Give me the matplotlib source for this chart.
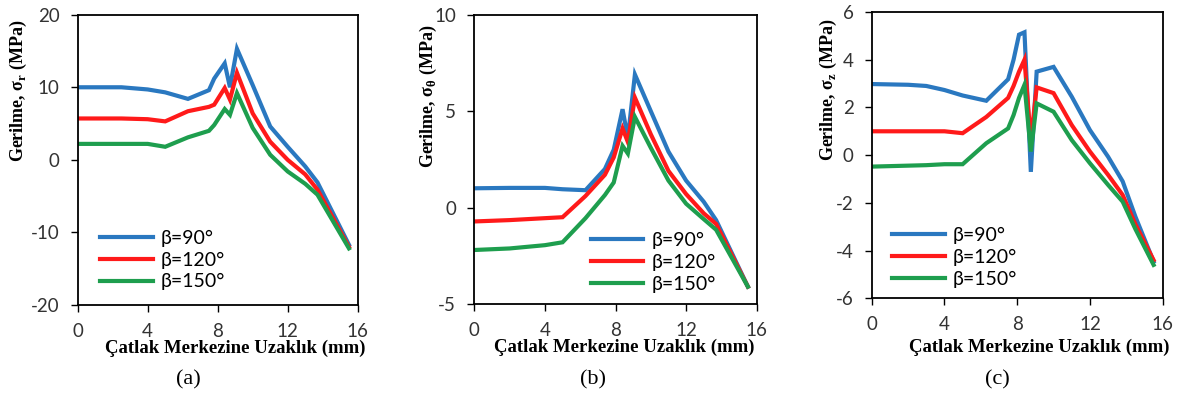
import numpy as np
import matplotlib
matplotlib.use("Agg")
from matplotlib import pyplot as plt

plt.rcParams["axes.unicode_minus"] = False

# (a) sigma_r
xa = [0, 2.5, 4, 5, 6.3, 7.5, 7.8, 8.4, 8.7, 9.1, 10, 11, 12, 13, 13.7, 15.5]
a90 = [10.0, 10.0, 9.7, 9.3, 8.4, 9.6, 11.2, 13.3, 10.0, 15.3, 10.3, 4.6, 1.8, -0.9, -3.1, -11.7]
a120 = [5.7, 5.7, 5.6, 5.3, 6.7, 7.3, 7.6, 9.9, 8.3, 12.0, 6.4, 2.5, 0.0, -2.0, -4.1, -12.0]
a150 = [2.2, 2.2, 2.2, 1.8, 3.1, 4.0, 4.8, 7.0, 6.2, 9.2, 4.4, 0.7, -1.6, -3.3, -4.8, -12.2]

# (b) sigma_theta
xb = [0, 2, 4, 5, 6.3, 7.4, 7.9, 8.4, 8.7, 9.1, 10, 11, 12, 13, 13.7, 15.5]
b90 = [1.0, 1.02, 1.02, 0.95, 0.9, 2.0, 3.0, 5.1, 3.6, 6.9, 5.0, 2.9, 1.4, 0.3, -0.65, -4.1]
b120 = [-0.72, -0.65, -0.55, -0.5, 0.6, 1.7, 2.6, 4.1, 3.4, 5.7, 3.8, 1.9, 0.7, -0.3, -0.85, -4.1]
b150 = [-2.2, -2.12, -1.95, -1.8, -0.55, 0.65, 1.3, 3.2, 2.8, 4.7, 3.1, 1.4, 0.2, -0.6, -1.15, -4.1]

# (c) sigma_z
xc = [0, 2, 3, 4, 5, 6.3, 7.5, 7.8, 8.1, 8.4, 8.75, 9.07, 10, 11, 12, 13, 13.8, 14.5, 15.5]
c90 = [2.98, 2.95, 2.9, 2.73, 2.5, 2.28, 3.18, 4.0, 5.05, 5.15, -0.7, 3.5, 3.7, 2.45, 1.05, -0.07, -1.1, -2.58, -4.46]
c120 = [1.0, 1.0, 1.0, 1.0, 0.92, 1.6, 2.4, 2.9, 3.5, 4.0, 0.6, 2.84, 2.6, 1.26, 0.15, -0.83, -1.67, -2.9, -4.4]
c150 = [-0.48, -0.44, -0.42, -0.38, -0.38, 0.5, 1.12, 1.68, 2.4, 2.95, 0.15, 2.17, 1.82, 0.63, -0.34, -1.25, -1.95, -3.1, -4.6]

labels = ["β=90°", "β=120°", "β=150°"]
colors = ["#2a78c0", "#ff1a1a", "#1e9e4e"]
xticks = [0, 4, 8, 12, 16]

panels = [
    dict(x=xa, ys=[a90, a120, a150], ylim=(-20, 20), yticks=[-20, -10, 0, 10, 20],
         sub="r", tag="(a)", pos=[77.7, 14.7, 357.7, 305], leg=(0.08, 0.155),
         ylab=(18, 91), xlab=(235, 348), tagxy=(188, 380)),
    dict(x=xb, ys=[b90, b120, b150], ylim=(-5, 10), yticks=[-5, 0, 5, 10],
         sub="θ", tag="(b)", pos=[474.3, 14.7, 756.7, 304], leg=(0.413, 0.145),
         ylab=(428, 96), xlab=(624, 347), tagxy=(593, 380)),
    dict(x=xc, ys=[c90, c120, c150], ylim=(-6, 6), yticks=[-6, -4, -2, 0, 2, 4, 6],
         sub="z", tag="(c)", pos=[871.7, 12, 1162.7, 298.3], leg=(0.07, 0.144),
         ylab=(828, 90), xlab=(1039, 347), tagxy=(997, 380)),
]

W, H = 1185, 397
fig = plt.figure(figsize=(W / 100, H / 100), dpi=100)

for p in panels:
    l, t, r, b = p["pos"]
    ax = fig.add_axes([l / W, 1 - b / H, (r - l) / W, (b - t) / H])
    for y, c, lab in zip(p["ys"], colors, labels):
        ax.plot(p["x"], y, color=c, lw=3.0, label=lab, solid_joinstyle="miter")
    ax.set_xlim(0, 16)
    ax.set_ylim(*p["ylim"])
    ax.set_xticks(xticks)
    ax.set_yticks(p["yticks"])
    ax.tick_params(direction="out", length=5, width=1, pad=8, labelsize=13.5)
    for lbl in ax.get_xticklabels() + ax.get_yticklabels():
        lbl.set_family("Lato")
        lbl.set_color("#333333")
    for s in ax.spines.values():
        s.set_linewidth(1.3)
    leg = ax.legend(loc="center left", bbox_to_anchor=p["leg"], frameon=False,
                    borderpad=0, borderaxespad=0, handlelength=2.7,
                    handletextpad=0.4, labelspacing=0.25,
                    prop={"family": "Lato", "size": 14})
    fig.text(p["ylab"][0] / W, 1 - p["ylab"][1] / H,
             "Gerilme, σ$_\\mathregular{" + p["sub"] + "}$ (MPa)",
             rotation=90, ha="center", va="center", family="Liberation Serif",
             fontweight="bold", fontsize=13)
    fig.text(p["xlab"][0] / W, 1 - p["xlab"][1] / H,
             "Çatlak Merkezine Uzaklık (mm)", ha="center", va="center",
             family="Liberation Serif", fontweight="bold", fontsize=13.5)
    fig.text(p["tagxy"][0] / W, 1 - p["tagxy"][1] / H, p["tag"],
             ha="center", va="center", family="Liberation Serif", fontsize=16)

fig.savefig("out.png", dpi=100)
